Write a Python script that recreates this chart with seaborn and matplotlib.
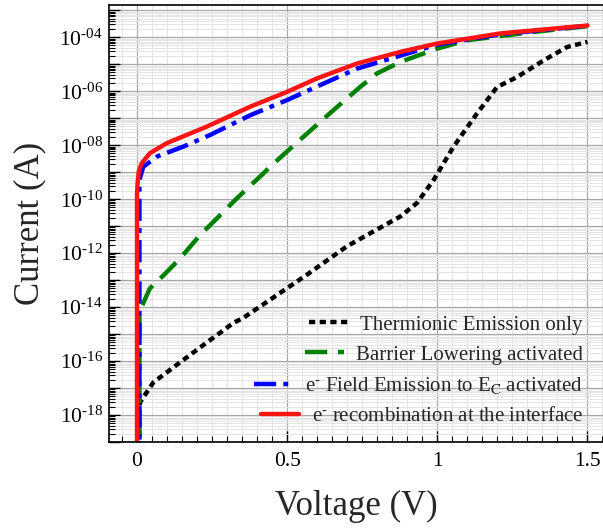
import numpy as np
import pandas as pd
import matplotlib
matplotlib.use("Agg")
import matplotlib.pyplot as plt
from matplotlib.ticker import FixedLocator, FuncFormatter, MultipleLocator, LogLocator, NullFormatter
import seaborn as sns

# values (voltage in V, current in A)
te_v = [0.008, 0.008, 0.01, 0.054, 0.143, 0.21, 0.321, 0.354, 0.466, 0.566, 0.699,
        0.877, 0.932, 0.988, 1.054, 1.132, 1.199, 1.266, 1.354, 1.432, 1.5]
te_i = [1e-20, 1.6e-18, 2.95e-18, 1.6e-17, 8.9e-17, 3.2e-16, 2.6e-15, 4.0e-15, 2.8e-14, 1.6e-13, 1.8e-12,
        2.3e-11, 7.2e-11, 5.2e-10, 8.9e-9, 1.5e-7, 1.45e-6, 3.4e-6, 1.4e-5, 4.4e-5, 6.8e-5]

bl_v = [0.008, 0.008, 0.01, 0.043, 0.088, 0.143, 0.21, 0.266, 0.332, 0.421, 0.443,
        0.543, 0.654, 0.743, 0.799, 0.877, 0.999, 1.099, 1.3, 1.5]
bl_i = [1e-20, 6.3e-15, 7.6e-15, 5.0e-14, 1.5e-13, 6.3e-13, 4.7e-12, 1.95e-11, 1.07e-10, 9.1e-10, 1.6e-9,
        1.6e-8, 2.0e-7, 1.45e-6, 4.6e-6, 1.23e-5, 3.8e-5, 7.8e-5, 1.5e-4, 2.6e-4]

fe_v = [0.008, 0.008, 0.01, 0.021, 0.066, 0.154, 0.243, 0.377, 0.499, 0.61, 0.732,
        0.877, 0.999, 1.21, 1.5]
fe_i = [1e-20, 2.5e-10, 6.3e-10, 1.6e-9, 3.8e-9, 8.9e-9, 2.4e-8, 1.3e-7, 4.7e-7, 1.7e-6, 6.9e-6,
        2.1e-5, 5.4e-5, 1.3e-4, 2.7e-4]

rc_v = [0.0, 0.0, 0.002, 0.006, 0.016, 0.043, 0.099, 0.232, 0.377, 0.499, 0.599,
        0.732, 0.877, 0.999, 1.21, 1.5]
rc_i = [1e-20, 1.5e-10, 4e-10, 1.1e-9, 2.2e-9, 5.1e-9, 1.2e-8, 4.9e-8, 2.7e-7, 9.5e-7, 3.0e-6,
        1.07e-5, 2.9e-5, 5.9e-5, 1.4e-4, 2.75e-4]

HY = "\u2010"  # short hyphen, mathtext would turn "-" into a long minus
labels = ["Thermionic Emission only",
          "Barrier Lowering activated",
          "e$^{%s}$ Field Emission to E$_{\\mathrm{C}}$ activated" % HY,
          "e$^{%s}$ recombination at the interface" % HY]
colors = ["black", "#008000", "#0000ff", "#ff1414"]
dashes = [(1.4, 1.0), (5, 2.4), (5, 1.6, 1.1, 1.6), ""]

frames = []
for lab, v, i in zip(labels, [te_v, bl_v, fe_v, rc_v], [te_i, bl_i, fe_i, rc_i]):
    frames.append(pd.DataFrame({"V": v, "I": i, "model": lab}))
df = pd.concat(frames, ignore_index=True)

sns.set_style("white")
plt.rcParams["font.family"] = ["Liberation Serif", "DejaVu Serif"]
plt.rcParams["mathtext.fontset"] = "stix"
plt.rcParams["mathtext.default"] = "regular"

fig = plt.figure(figsize=(6.03, 5.30), dpi=100)
ax = fig.add_axes([109 / 603, 1 - 442 / 530, 494 / 603, 437 / 530])

sns.lineplot(data=df, x="V", y="I", hue="model", style="model",
             palette=dict(zip(labels, colors)), dashes=dict(zip(labels, dashes)),
             sort=False, estimator=None, linewidth=3.2, ax=ax)

ax.set_yscale("log")
ax.set_xlim(-0.0933, 1.5517)
ax.set_ylim(1e-19, 10 ** -2.8)

ax.yaxis.set_major_locator(FixedLocator(10.0 ** np.arange(-19, -2)))
ax.yaxis.set_minor_locator(LogLocator(base=10, subs=np.arange(2, 10), numticks=100))
ax.yaxis.set_minor_formatter(NullFormatter())


def fmt_exp(val, pos):
    e = int(round(np.log10(val)))
    if e % 2:
        return ""
    return "$10^{%s%02d}$" % (HY, -e)


ax.yaxis.set_major_formatter(FuncFormatter(fmt_exp))
ax.xaxis.set_major_locator(MultipleLocator(0.5))
ax.xaxis.set_minor_locator(MultipleLocator(0.05))
ax.xaxis.set_major_formatter(FuncFormatter(lambda v, p: "%g" % v))

ax.grid(which="major", color="#a8a8a8", linewidth=0.9)
ax.grid(which="minor", color="#e4e4e4", linewidth=0.7)
ax.set_axisbelow(True)

ax.tick_params(which="both", direction="in", left=True, bottom=True, colors="black")
ax.tick_params(which="major", length=8, width=1.0, labelsize=15.5)
ax.tick_params(which="minor", length=4, width=0.8)
ax.tick_params(axis="y", which="major", pad=4.5)
ax.tick_params(axis="x", which="major", pad=7)

for side in ["left", "bottom", "top"]:
    ax.spines[side].set_color("black")
    ax.spines[side].set_linewidth(1.2)
ax.spines["right"].set_visible(False)

ax.set_xlabel("Voltage (V)", fontsize=25, labelpad=14)
ax.set_ylabel("Current (A)", fontsize=25, labelpad=9)

handles, labs = ax.get_legend_handles_labels()
leg = ax.legend(handles, labs, loc="lower right", frameon=False, fontsize=15,
                bbox_to_anchor=(583 / 603, 1 - 426 / 530), bbox_transform=fig.transFigure,
                borderaxespad=0, borderpad=0, handlelength=1.85, handletextpad=0.6,
                labelspacing=0.5)
# right align the legend rows, handles stay in front of the text
leg._legend_handle_box.get_children()[0].align = "right"
for line in leg.get_lines():
    line.set_linewidth(3.2)

fig.savefig("out.png", dpi=100)
